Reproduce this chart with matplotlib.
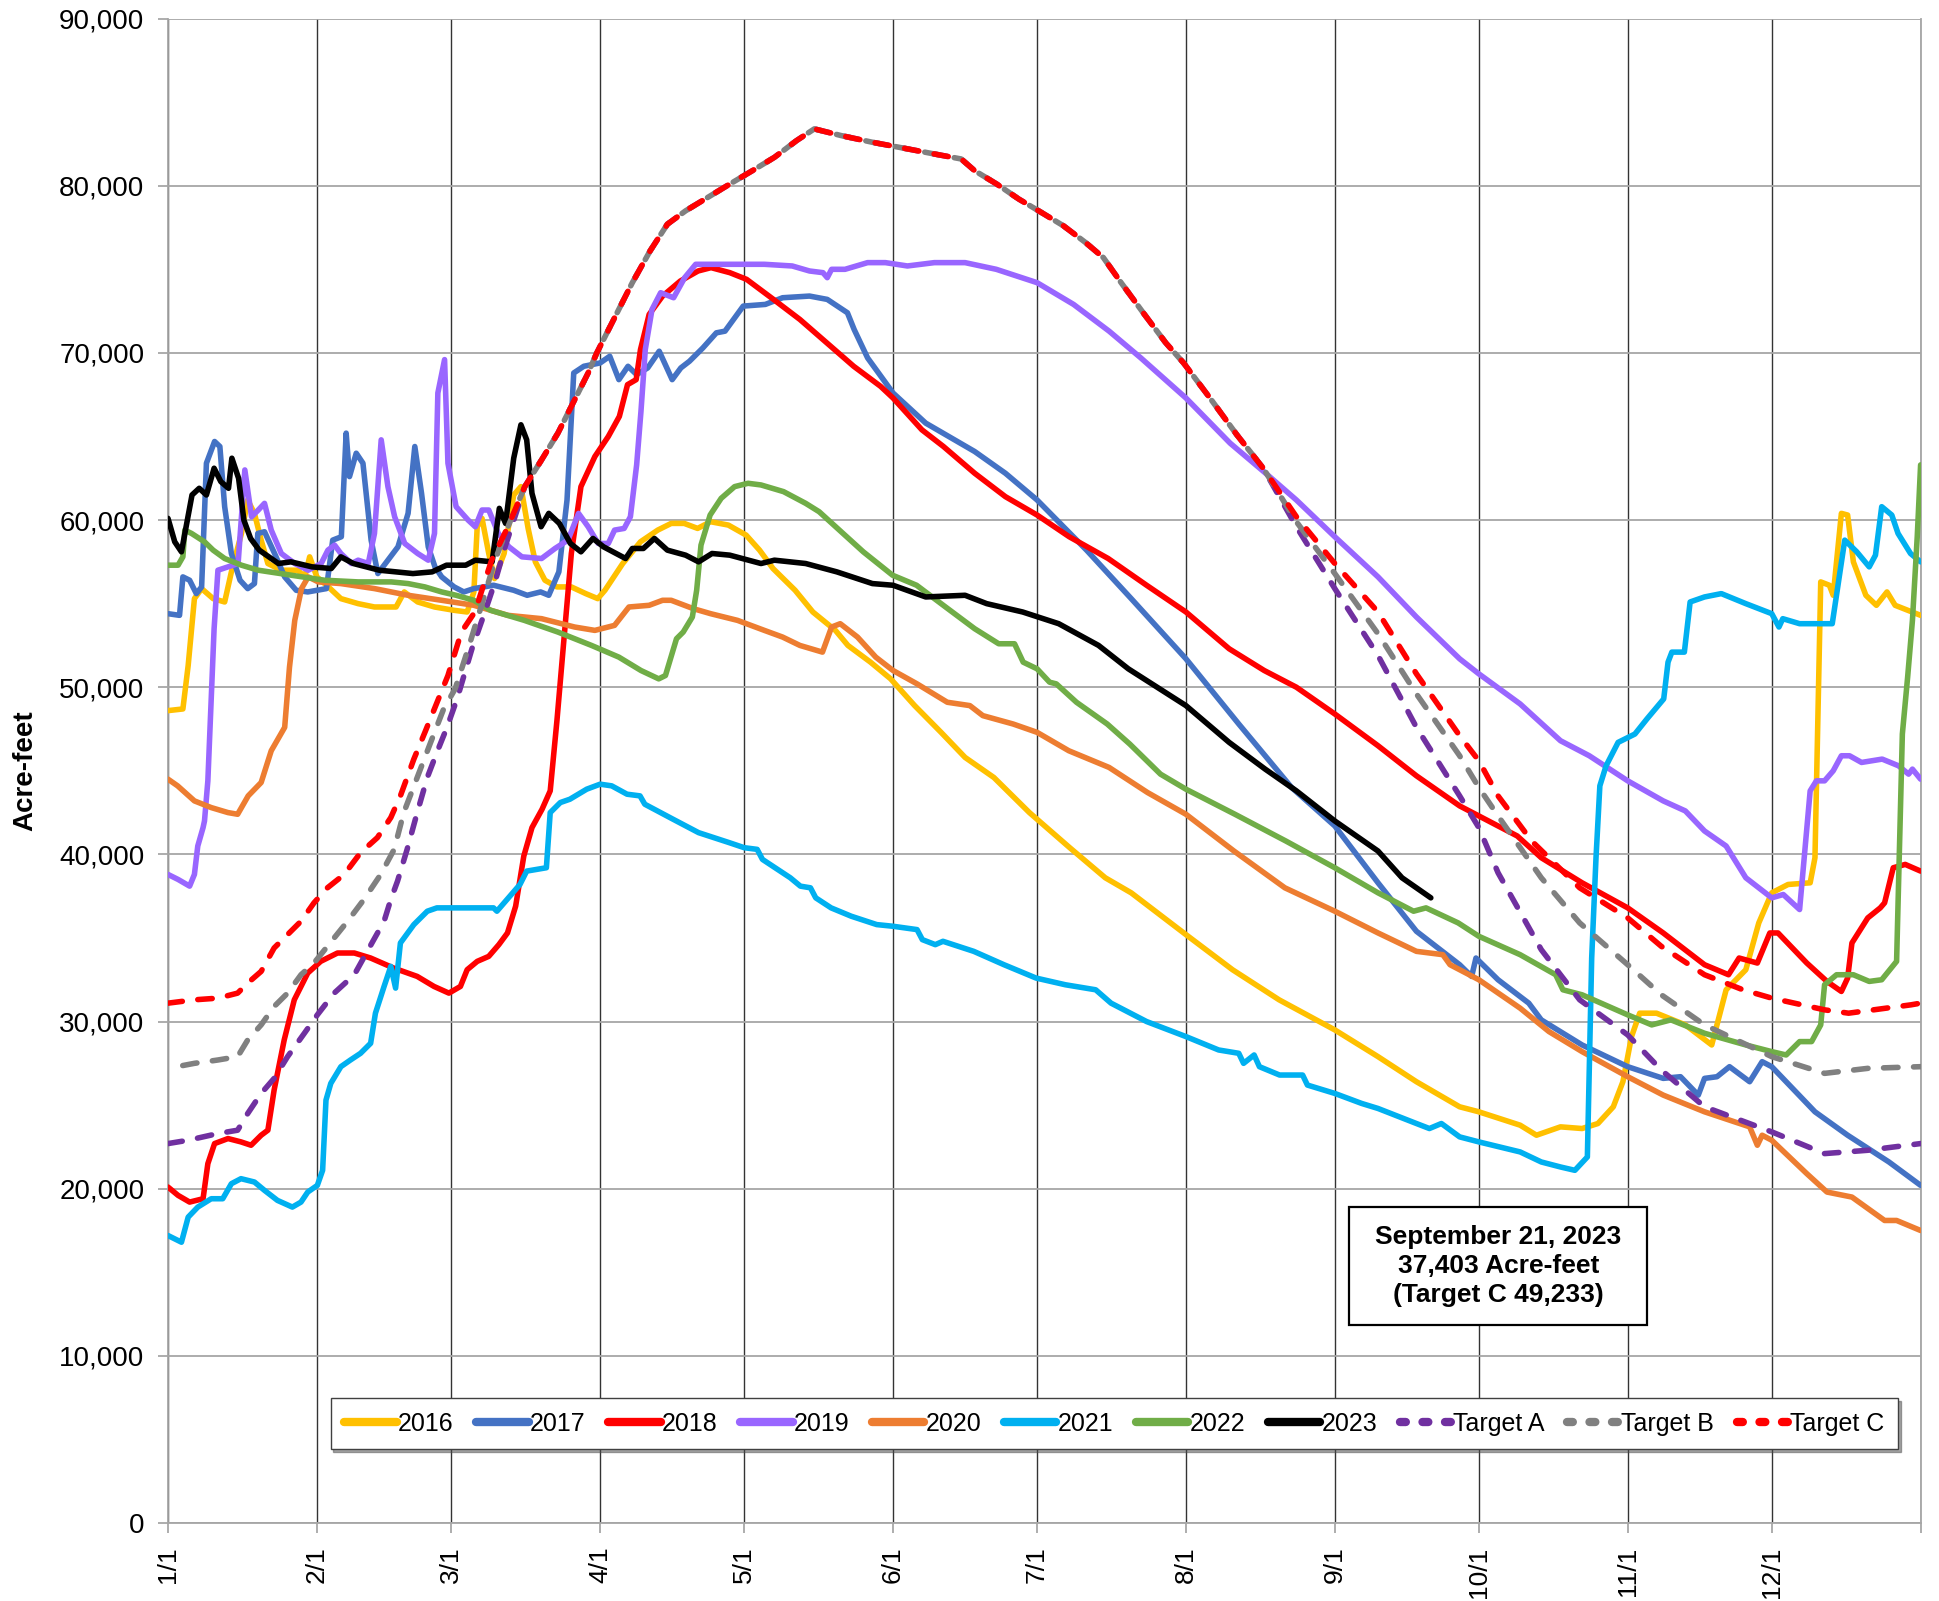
"""Reservoir storage by day of year, 2016-2023, with target curves A/B/C."""

import numpy as np
import matplotlib.pyplot as plt
from matplotlib.patches import Rectangle
from matplotlib.ticker import FuncFormatter

plt.rcParams['font.family'] = ['Liberation Sans', 'DejaVu Sans']

# day-of-year month starts and tick labels
month_days = [0, 31, 59, 90, 120, 151, 181, 212, 243, 273, 304, 334, 365]
month_labels = ["1/1", "2/1", "3/1", "4/1", "5/1", "6/1", "7/1", "8/1",
                "9/1", "10/1", "11/1", "12/1", ""]

# ---- yearly series (day of year, thousand acre-feet) ----
d2016 = [0, 3.1, 4.2, 5.5, 7, 9.4, 11.8, 13.2, 15.3, 16.6, 18, 19.4, 20.8, 23.6, 27, 28.5, 29.5, 31,
         33.4, 36, 39.6, 43, 47.5, 49.2, 52, 55.5, 59.6, 62.3, 63.7, 64.4, 65.4, 66.8, 68, 70, 72,
         73.5, 75, 76.5, 78.5, 81, 84, 87, 89.5, 91, 94.7, 98.4, 102, 104.8, 107.5, 110.3, 113,
         116.7, 120.4, 123.2, 126, 130.6, 134.3, 139, 141.6, 146.3, 150.5, 155.5, 161, 166, 172,
         179.4, 187.8, 195.2, 200.6, 212, 221.7, 231.4, 243, 252, 260, 269, 273, 281.6, 285, 290,
         294.5, 297.8, 301, 303, 304.8, 306.5, 310, 316, 321.5, 324.5, 328.6, 331.3, 334, 337.4,
         342, 343, 344.2, 346, 346.8, 348.5, 349.8, 351, 353.6, 355.8, 358, 359.7, 365]
v2016 = [48.6, 48.7, 51.3, 55.3, 55.9, 55.3, 55.1, 56.9, 59.2, 61.2, 60.4, 58.8, 57.4, 57.0, 57.0,
         56.6, 57.8, 56.6, 56.0, 55.3, 55.0, 54.8, 54.8, 55.7, 55.1, 54.8, 54.6, 54.5, 55.7, 59.6,
         60.1, 58.0, 56.5, 58.0, 61.5, 62.0, 59.5, 57.5, 56.4, 56.0, 56.0, 55.6, 55.3, 55.8, 57.4,
         58.7, 59.4, 59.8, 59.8, 59.5, 59.9, 59.7, 59.1, 58.2, 57.1, 55.8, 54.5, 53.4, 52.5, 51.5,
         50.5, 48.9, 47.3, 45.8, 44.6, 42.5, 40.4, 38.6, 37.7, 35.2, 33.1, 31.3, 29.5, 27.9, 26.4,
         24.9, 24.6, 23.8, 23.2, 23.7, 23.6, 23.9, 24.9, 26.4, 29.1, 30.5, 30.5, 29.8, 28.6, 31.9,
         33.1, 35.9, 37.7, 38.2, 38.3, 39.8, 56.3, 56.1, 55.5, 60.4, 60.3, 57.5, 55.5, 54.9, 55.7,
         54.9, 54.3]

d2017 = [0, 2.4, 3.1, 4.5, 5.9, 7, 8, 9.7, 10.8, 11.8, 13.2, 15, 16.6, 18, 18.7, 20.1, 22.2, 24.3,
         26.7, 29.1, 33, 34.3, 36.1, 37.1, 37.8, 39.2, 40.6, 42.3, 43.7, 45.8, 47.9, 50, 51.4, 52.8,
         54.2, 55.6, 57, 59.6, 61.6, 63.7, 67.8, 72, 74.8, 77.6, 79.3, 81.4, 83.1, 84.5, 86.6, 90,
         92, 93.9, 95.8, 97.6, 99.9, 102.3, 105, 106.8, 108.6, 111.4, 114.2, 116, 119.8, 124.4,
         128, 133.6, 137.3, 141.5, 142.9, 145.7, 151, 157.8, 168, 174.4, 181, 191.3, 200.6, 212,
         223, 234, 243, 252, 260, 269, 271.5, 272.4, 277, 283.4, 286, 294.5, 304, 311.4, 315,
         318.7, 320, 322.6, 325.2, 329.4, 332, 334, 337, 343, 349.8, 358.4, 365]
v2017 = [54.4, 54.3, 56.6, 56.4, 55.6, 56.0, 63.4, 64.7, 64.4, 60.8, 58.0, 56.4, 55.9, 56.2, 59.2,
         59.3, 58.0, 56.6, 55.8, 55.7, 55.9, 58.8, 59.0, 65.2, 62.6, 64.0, 63.4, 58.8, 56.8, 57.6,
         58.4, 60.4, 64.4, 61.6, 58.4, 57.2, 56.6, 56.0, 55.7, 55.9, 56.1, 55.8, 55.5, 55.7, 55.5,
         56.9, 61.2, 68.8, 69.2, 69.4, 69.8, 68.4, 69.2, 68.7, 69.1, 70.1, 68.4, 69.1, 69.5, 70.3,
         71.2, 71.3, 72.8, 72.9, 73.3, 73.4, 73.2, 72.4, 71.4, 69.7, 67.6, 65.8, 64.1, 62.8, 61.2,
         58.2, 55.3, 51.7, 47.8, 44.0, 41.7, 38.3, 35.4, 33.4, 32.7, 33.8, 32.5, 31.1, 30.1, 28.6,
         27.3, 26.6, 26.7, 25.6, 26.6, 26.7, 27.3, 26.4, 27.6, 27.3, 26.4, 24.6, 23.2, 21.6, 20.2]

d2018 = [0, 2.1, 4.5, 7.3, 8.3, 9.7, 12.5, 15.2, 17.3, 19.4, 20.8, 22.1, 24.2, 26.3, 29.1, 31.8,
         35.3, 38.8, 42.2, 47, 51.9, 55.4, 58.5, 60.9, 62.3, 64.4, 66.8, 68.9, 70.7, 72.4, 74.1,
         75.8, 77.9, 79.6, 81, 82.5, 84, 86, 88.9, 91.7, 94, 95.7, 97.5, 98.4, 100.2, 103, 106.7,
         110.4, 113.1, 117, 120.5, 126.1, 131.6, 137.2, 142.8, 148.4, 151, 157, 161.5, 168, 174.4,
         181, 187.7, 195.8, 203.8, 212, 221, 228.3, 235, 243, 252, 260, 269, 273, 281, 286, 294.5,
         304, 311.4, 320, 325, 327.2, 331, 333.6, 335.3, 341.3, 345.5, 348.5, 349.8, 350.7, 354,
         356.6, 357.5, 359.3, 361.8, 365]
v2018 = [20.1, 19.6, 19.2, 19.4, 21.5, 22.7, 23.0, 22.8, 22.6, 23.2, 23.5, 25.9, 28.9, 31.3, 32.9,
         33.6, 34.1, 34.1, 33.8, 33.2, 32.7, 32.1, 31.7, 32.1, 33.1, 33.6, 33.9, 34.6, 35.3, 36.9,
         39.9, 41.6, 42.7, 43.8, 48.0, 53.0, 58.0, 62.0, 63.8, 65.0, 66.2, 68.1, 68.4, 70.2, 72.3,
         73.4, 74.3, 74.9, 75.1, 74.8, 74.4, 73.2, 72.0, 70.6, 69.2, 68.0, 67.3, 65.4, 64.4, 62.8,
         61.4, 60.3, 59.0, 57.7, 56.1, 54.5, 52.3, 51.0, 50.0, 48.4, 46.5, 44.7, 42.9, 42.3, 41.1,
         39.8, 38.3, 36.8, 35.3, 33.4, 32.8, 33.8, 33.5, 35.3, 35.3, 33.5, 32.4, 31.8, 32.6, 34.7,
         36.2, 36.8, 37.1, 39.2, 39.4, 39.0]

d2019 = [0, 2.1, 4.5, 5.5, 6.2, 7.3, 7.6, 8.3, 9, 9.6, 10.4, 12.5, 14.6, 16, 17.4, 18.8, 20.1,
         21.5, 23.6, 26.4, 29.2, 31.9, 33.3, 34.7, 36, 38.2, 39.6, 41.7, 43, 44.4, 45.8, 47.2, 49.3,
         52, 54.2, 55.5, 56.2, 57.6, 58.3, 60, 62.5, 64, 65.4, 66.8, 68.8, 71, 73.7, 77.8, 80.6,
         83.3, 85.5, 87.5, 89.6, 91.7, 93, 95, 96.3, 97.6, 98.5, 99.4, 100.8, 102.6, 105.3, 107.6,
         109.9, 116.8, 124.2, 130, 133.6, 136.4, 137.3, 138.2, 141, 145.7, 149.4, 154, 159.6, 166,
         172.5, 181, 188.6, 196, 202.6, 212, 221.2, 228.6, 235, 243, 252, 260, 269, 273, 281.6,
         290, 296, 304, 311.4, 316, 320, 324.5, 328.6, 334, 336.4, 339.8, 342, 343.3, 345, 346.8,
         348.5, 350.2, 352.7, 357, 360.4, 362.5, 363.3, 365]
v2019 = [38.8, 38.5, 38.1, 38.8, 40.5, 41.6, 42.0, 44.4, 49.3, 53.5, 57.0, 57.2, 57.4, 63.0, 60.2,
         60.6, 61.0, 59.4, 58.0, 57.4, 57.0, 57.4, 58.2, 58.5, 58.0, 57.4, 57.6, 57.4, 59.2, 64.8,
         62.0, 60.2, 58.6, 58.0, 57.6, 59.2, 67.6, 69.6, 63.4, 60.8, 60.0, 59.6, 60.6, 60.6, 59.2,
         58.4, 57.8, 57.7, 58.3, 58.8, 60.4, 59.6, 58.6, 58.6, 59.4, 59.5, 60.2, 63.3, 66.5, 70.2,
         72.6, 73.6, 73.3, 74.5, 75.3, 75.3, 75.3, 75.2, 74.9, 74.8, 74.5, 75.0, 75.0, 75.4, 75.4,
         75.2, 75.4, 75.4, 75.0, 74.2, 72.9, 71.3, 69.7, 67.3, 64.6, 62.8, 61.2, 59.0, 56.6, 54.2,
         51.7, 50.8, 49.0, 46.8, 45.9, 44.4, 43.2, 42.6, 41.4, 40.5, 38.6, 37.4, 37.6, 36.7, 43.8,
         44.4, 44.4, 45.0, 45.9, 45.9, 45.5, 45.7, 45.3, 44.8, 45.1, 44.5]

d2020 = [0, 2, 5.5, 9, 12.5, 14.5, 16.7, 19.4, 21.5, 24.3, 25.3, 26.4, 27.8, 29.2, 31.3, 36, 43, 50,
         57, 63.7, 70.8, 77.8, 84.7, 88.9, 93, 96, 100.2, 103, 104.8, 109.4, 113, 118.6, 124.2,
         128, 131.6, 136.3, 138.2, 140, 143.6, 147.4, 151, 156, 162.3, 167, 169.7, 176, 181, 187.6,
         196, 204, 212, 222, 232.6, 243, 252, 260, 265.5, 267, 273, 281.6, 287.6, 294.5, 304,
         311.4, 320, 329.4, 331, 332, 334, 341.3, 345.5, 350.7, 357.5, 360, 365]
v2020 = [44.5, 44.1, 43.2, 42.8, 42.5, 42.4, 43.5, 44.3, 46.2, 47.6, 51.2, 54.0, 55.9, 56.6, 56.3,
         56.2, 55.9, 55.5, 55.2, 54.9, 54.3, 54.1, 53.6, 53.4, 53.7, 54.8, 54.9, 55.2, 55.2, 54.7,
         54.4, 54.0, 53.4, 53.0, 52.5, 52.1, 53.6, 53.8, 53.0, 51.8, 51.0, 50.2, 49.1, 48.9, 48.3,
         47.8, 47.3, 46.2, 45.2, 43.7, 42.4, 40.2, 38.0, 36.6, 35.3, 34.2, 34.0, 33.4, 32.5, 30.8,
         29.4, 28.2, 26.7, 25.6, 24.6, 23.7, 22.6, 23.2, 22.9, 20.9, 19.8, 19.5, 18.1, 18.1, 17.5]

d2021 = [0, 2.8, 4.2, 6.2, 9, 11.4, 13.2, 15.2, 18, 20.1, 22.8, 25.9, 27.7, 29.1, 31.1, 32.2, 32.9,
         33.9, 36, 38, 40.1, 42.2, 43.2, 45, 46.4, 47.4, 48.4, 51.2, 54, 56, 60.9, 67.8, 68.5,
         70.6, 73.3, 74.7, 78.8, 79.6, 81.7, 83.7, 87.2, 90, 92.4, 95.6, 98.3, 99.3, 105.2, 110.5,
         116.9, 120, 122.7, 123.8, 129.6, 131.7, 133.8, 134.9, 138.1, 142.3, 147.6, 151, 156,
         157.1, 159.8, 161.4, 167.8, 174.1, 180.8, 186.9, 193.2, 196.4, 203.8, 212, 218.8, 223,
         224, 226.2, 227.3, 231.5, 236.3, 237.3, 243, 248.6, 252, 260, 262.7, 265.2, 269, 273,
         281.6, 286, 290, 293, 295.6, 296.5, 297.4, 298.2, 299.5, 302, 305.5, 308, 311.5, 312.4,
         313.2, 315.8, 317, 320, 323.5, 328.6, 334, 335.5, 336.3, 339.8, 346.6, 349.2, 351.7,
         354.3, 355.6, 356.9, 359, 360.3, 362.9, 365]
v2021 = [17.2, 16.8, 18.3, 18.9, 19.4, 19.4, 20.3, 20.6, 20.4, 19.9, 19.3, 18.9, 19.2, 19.8, 20.2,
         21.1, 25.3, 26.3, 27.3, 27.7, 28.1, 28.7, 30.5, 32.1, 33.3, 32.0, 34.7, 35.8, 36.6, 36.8,
         36.8, 36.8, 36.6, 37.3, 38.2, 39.0, 39.2, 42.5, 43.1, 43.3, 43.9, 44.2, 44.1, 43.6, 43.5,
         43.0, 42.1, 41.3, 40.7, 40.4, 40.3, 39.7, 38.6, 38.1, 38.0, 37.4, 36.8, 36.3, 35.8, 35.7,
         35.5, 34.9, 34.6, 34.8, 34.2, 33.4, 32.6, 32.2, 31.9, 31.1, 30.0, 29.1, 28.3, 28.1, 27.5,
         28.0, 27.3, 26.8, 26.8, 26.2, 25.7, 25.1, 24.8, 23.9, 23.6, 23.9, 23.1, 22.8, 22.2, 21.6,
         21.3, 21.1, 21.9, 33.8, 39.8, 44.1, 45.3, 46.7, 47.2, 48.1, 49.3, 51.5, 52.1, 52.1, 55.1,
         55.4, 55.6, 55.0, 54.4, 53.6, 54.1, 53.8, 53.8, 58.8, 58.1, 57.2, 57.9, 60.8, 60.3, 59.2,
         58.0, 57.5]

d2022 = [0, 2.1, 3.1, 3.5, 4.9, 7.6, 9.4, 11.8, 15.3, 18.8, 25.7, 32.6, 39.6, 46.5, 50, 53.5, 57,
         60, 63.7, 67.2, 74.2, 81.2, 88.2, 93.9, 98.5, 102.2, 103.6, 105.9, 107.3, 109.2, 110.1,
         111, 112.9, 115.2, 118, 120.8, 123.5, 128.2, 132.8, 135.6, 140.2, 144.8, 150.9, 155.9,
         162.4, 168, 173, 176.3, 178.1, 181, 183.6, 185, 189.2, 195.6, 200.3, 206.7, 212, 222.2,
         232.8, 243, 252, 259.4, 262, 268.7, 273, 281.6, 289, 290.5, 294.5, 304, 309, 313, 320,
         328.6, 334, 337, 339.8, 342.3, 344.2, 345, 347.5, 351, 354.3, 356.9, 360, 361.2, 362.3,
         363.3, 364.3, 365]
v2022 = [57.3, 57.3, 57.8, 59.4, 59.2, 58.7, 58.2, 57.7, 57.3, 57.0, 56.7, 56.4, 56.3, 56.3, 56.2,
         56.0, 55.7, 55.5, 55.2, 54.6, 54.0, 53.3, 52.5, 51.8, 51.0, 50.5, 50.7, 52.9, 53.3, 54.2,
         55.8, 58.5, 60.3, 61.3, 62.0, 62.2, 62.1, 61.7, 61.0, 60.5, 59.3, 58.1, 56.7, 56.1, 54.7,
         53.5, 52.6, 52.6, 51.5, 51.1, 50.3, 50.2, 49.1, 47.8, 46.6, 44.8, 43.9, 42.4, 40.8, 39.2,
         37.7, 36.6, 36.8, 35.9, 35.1, 34.0, 32.8, 31.9, 31.6, 30.4, 29.8, 30.1, 29.3, 28.6, 28.2,
         28.0, 28.8, 28.8, 29.8, 32.2, 32.8, 32.8, 32.4, 32.5, 33.6, 47.2, 50.6, 54.0, 59.0, 63.3]

d2023 = [0, 1.4, 2.8, 5, 6.5, 8, 9.6, 11, 12.6, 13.3, 14.7, 15.8, 17.2, 19, 23, 25.6, 30, 34, 36,
         38.6, 44, 51, 55, 58, 62, 64, 67.5, 69, 70.3, 72, 73.5, 74.7, 75.8, 77.7, 79.3, 81.5,
         83.8, 86, 88.5, 90.7, 95.3, 96.7, 99, 101.3, 104, 107.8, 110.5, 113.3, 117, 123.5, 126.3,
         132.8, 139.3, 146.7, 151, 157.8, 166, 170.5, 178, 185.5, 193.8, 200, 212, 221, 228.5, 235,
         243, 252, 257, 263]
v2023 = [60.1, 58.7, 58.1, 61.5, 61.9, 61.5, 63.1, 62.3, 61.9, 63.7, 62.5, 60.0, 58.9, 58.2, 57.4,
         57.5, 57.2, 57.1, 57.8, 57.4, 57.0, 56.8, 56.9, 57.3, 57.3, 57.6, 57.5, 60.7, 59.8, 63.7,
         65.7, 64.8, 61.6, 59.6, 60.4, 59.8, 58.6, 58.1, 58.9, 58.4, 57.7, 58.3, 58.3, 58.9, 58.2,
         57.9, 57.5, 58.0, 57.9, 57.4, 57.6, 57.4, 56.9, 56.2, 56.1, 55.4, 55.5, 55.0, 54.5, 53.8,
         52.5, 51.1, 48.9, 46.7, 45.1, 43.8, 42.0, 40.2, 38.6, 37.4]

# ---- target curves: own spring rise, shared summer peak, own fall drawdown ----
peak_days = [74.3, 77.8, 81.2, 84.7, 87.5, 89.3, 93, 96.7, 100.4, 104, 107.8, 112.4, 117, 121.7,
             126.3, 130.9, 134.6, 140.2, 146.7, 154.1, 159.6, 165.2, 168, 172.6, 177.2, 181.9,
             186.5, 191.1, 194.8, 198.5, 203.1, 207.8, 211.5, 217, 222.6, 228.1]
peak_vals = [62.0, 63.6, 65.2, 67.2, 68.8, 70.0, 72.1, 74.2, 76.1, 77.7, 78.5, 79.3, 80.1, 80.9,
             81.7, 82.7, 83.4, 83.0, 82.6, 82.2, 81.9, 81.6, 80.9, 80.1, 79.2, 78.4, 77.6, 76.6,
             75.7, 74.2, 72.4, 70.6, 69.4, 67.3, 65.1, 63.1]

tA_spring_days = [0, 4.2, 10.4, 14.5, 16.6, 19.4, 22.1, 24.9, 28.4, 31.1, 34.6, 38.8, 41.5, 45,
                  46.4, 47.8, 49.8, 51.9, 54, 56, 58.1, 60.2, 63.3, 66, 68.1, 70.2]
tA_spring_vals = [22.7, 22.9, 23.3, 23.5, 24.5, 25.7, 26.6, 27.9, 29.3, 30.4, 31.7, 32.8, 34.2,
                  36.0, 37.3, 38.4, 40.3, 42.5, 44.6, 46.1, 47.6, 49.3, 52.3, 54.5, 56.3, 58.4]
tA_fall_days = [235, 243, 252, 260, 269, 273, 277, 286, 294, 304, 311, 320, 334, 345, 354, 365]
tA_fall_vals = [59.6, 55.9, 51.9, 47.6, 43.5, 41.6, 38.9, 34.3, 31.3, 29.2, 27.1, 24.9, 23.4,
                22.1, 22.3, 22.7]

tB_spring_days = [0, 5.5, 10.4, 14.5, 16.6, 19.4, 22.1, 24.9, 27.7, 30.4, 33.2, 37.4, 40.8, 44.3,
                  47.1, 49.1, 51.9, 54.7, 57.4, 59.8, 62.5, 65.3, 68.1, 70.8]
tB_spring_vals = [27.2, 27.5, 27.7, 27.9, 28.9, 29.8, 30.9, 31.7, 32.8, 33.5, 34.5, 36.0, 37.3,
                  38.8, 40.3, 42.5, 44.6, 46.7, 48.7, 49.9, 52.3, 54.9, 57.6, 59.6]
tB_fall_days = [235, 243, 252, 260, 269, 273, 277, 286, 294, 304, 311, 320, 334, 345, 354, 365]
tB_fall_vals = [59.9, 56.8, 53.2, 49.6, 45.9, 44.0, 42.3, 38.6, 35.9, 33.4, 31.6, 29.8, 27.9,
                26.9, 27.2, 27.3]

tC_spring_days = [0, 5.5, 10.4, 14.5, 16.6, 19.4, 22.1, 24.9, 27.7, 30.4, 33.2, 36.7, 40.1, 43.6,
                  46.4, 48.4, 51.2, 53.5, 58.3, 61.1, 63.9, 67.4, 70.8]
tC_spring_vals = [31.1, 31.3, 31.4, 31.7, 32.3, 33.0, 34.4, 35.2, 36.0, 37.1, 38.0, 38.8, 40.1,
                  41.0, 42.2, 43.5, 45.7, 47.3, 50.7, 53.3, 54.5, 57.6, 59.6]
tC_fall_days = [235, 243, 252, 260, 269, 273, 277, 284, 294, 304, 311, 320, 328, 334, 345, 350,
                363, 365]
tC_fall_vals = [60.2, 57.4, 54.5, 50.8, 47.1, 45.6, 43.5, 40.8, 38.0, 36.2, 34.5, 32.8, 31.9,
                31.4, 30.7, 30.5, 31.0, 31.1]

years = [("2016", d2016, v2016, "#FFC000"),
         ("2017", d2017, v2017, "#4472C4"),
         ("2018", d2018, v2018, "#FF0000"),
         ("2019", d2019, v2019, "#9966FF"),
         ("2020", d2020, v2020, "#ED7D31"),
         ("2021", d2021, v2021, "#00B0F0"),
         ("2022", d2022, v2022, "#70AD47"),
         ("2023", d2023, v2023, "#000000")]

# last item: dash offset, so the grey shows through the red gaps on the shared peak
targets = [("Target A", tA_spring_days, tA_spring_vals, tA_fall_days, tA_fall_vals, "#7030A0", 0),
           ("Target B", tB_spring_days, tB_spring_vals, tB_fall_days, tB_fall_vals, "#808080", 2.7),
           ("Target C", tC_spring_days, tC_spring_vals, tC_fall_days, tC_fall_vals, "#FF0000", 0)]

fig = plt.figure(figsize=(19.4, 16.01), dpi=100)
ax = fig.add_axes([0.0866, 0.0487, 0.9034, 0.9397])

lw = 4.0
for name, d, v, c in years:
    ax.plot(d, np.array(v) * 1000, color=c, lw=lw, label=name,
            solid_joinstyle="round", solid_capstyle="round", zorder=3)

for name, sd, sv, fd, fv, c, off in targets:
    days = sd + peak_days + fd
    vals = np.array(sv + peak_vals + fv) * 1000
    ax.plot(days, vals, color=c, lw=lw, ls=(off, (2.6, 2.8)), label=name,
            dash_capstyle="round", dash_joinstyle="round", zorder=4)

ax.set_xlim(0, 365)
ax.set_ylim(0, 90000)
ax.set_yticks(np.arange(0, 90001, 10000))
ax.yaxis.set_major_formatter(FuncFormatter(lambda y, p: f"{y:,.0f}"))
ax.set_xticks(month_days)
ax.set_xticklabels(month_labels, rotation=90, va="top", ha="center")

ax.tick_params(axis="both", direction="out", length=7, width=1.2, color="#A0A0A0")
ax.tick_params(axis="y", labelsize=20, pad=10)
ax.tick_params(axis="x", labelsize=19, pad=10)

ax.set_axisbelow(True)
ax.grid(axis="y", color="#A6A6A6", lw=1.3)
ax.grid(axis="x", color="#333333", lw=1.0)
for side in ["left", "right", "top", "bottom"]:
    ax.spines[side].set_color("#A6A6A6")
    ax.spines[side].set_linewidth(1.3)
ax.spines["top"].set_visible(False)

ax.set_ylabel("Acre-feet", fontsize=20, fontweight="bold")
ax.yaxis.set_label_coords(-0.074, 0.5)

leg = ax.legend(loc="center", bbox_to_anchor=(0.54, 0.066), ncol=11, fontsize=18,
                handlelength=2.1, handletextpad=0.05, columnspacing=0.9,
                borderpad=0.55, frameon=True, fancybox=False, shadow=True)
leg.get_frame().set_edgecolor("#404040")
leg.get_frame().set_linewidth(1.0)
for h in leg.get_lines():
    h.set_linewidth(6)
    if h.get_label().startswith("Target"):
        h.set_linestyle((0, (0.7, 2.0)))

# note box
ax.add_patch(Rectangle((0.674, 0.1316), 0.1697, 0.0784, transform=ax.transAxes,
                       facecolor="white", edgecolor="black", lw=1.6, zorder=6))
ax.text(0.759, 0.171, "September 21, 2023\n37,403 Acre-feet\n(Target C 49,233)",
        transform=ax.transAxes, ha="center", va="center", fontsize=19,
        fontweight="bold", linespacing=1.25, zorder=7)

plt.savefig("out.png", dpi=100)
print("Saved out.png")
